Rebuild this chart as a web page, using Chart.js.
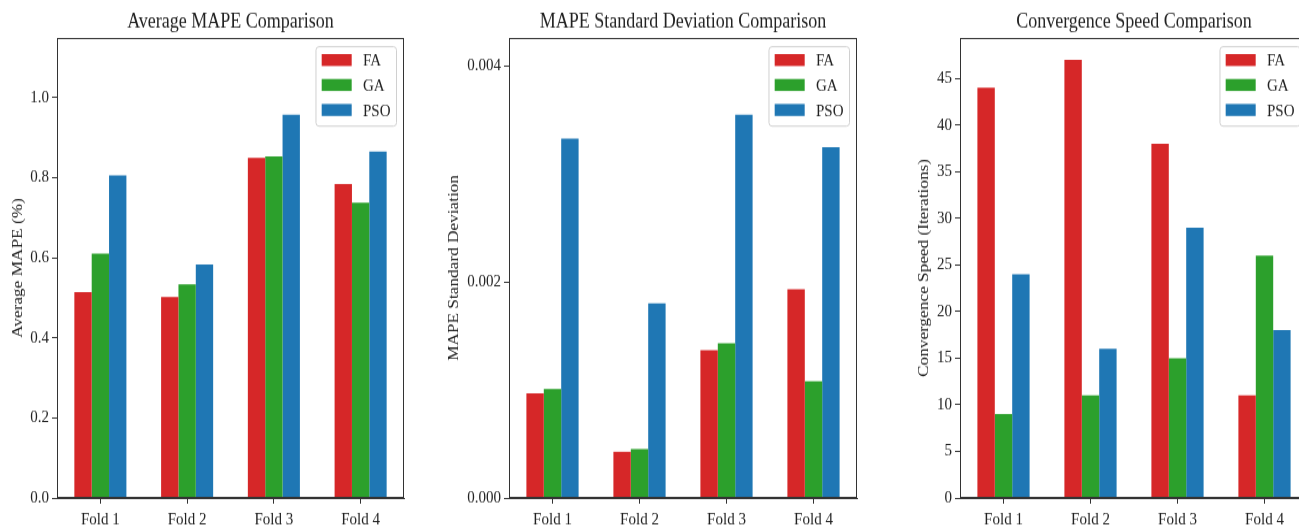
<!DOCTYPE html>
<html>
<head>
<meta charset="utf-8">
<script src="https://cdn.jsdelivr.net/npm/chart.js@4.4.1/dist/chart.umd.min.js"></script>
<style>
  html, body { margin: 0; padding: 0; background: #fff; width: 1299px; height: 529px; overflow: hidden; }
  .panel { position: absolute; top: 0; height: 460px; transform: scaleY(1.15); transform-origin: 0 0; }
</style>
</head>
<body>
<div class="panel" style="left:0px;width:410px"><canvas id="c1"></canvas></div>
<div class="panel" style="left:440px;width:423px"><canvas id="c2"></canvas></div>
<div class="panel" style="left:900px;width:414px"><canvas id="c3"></canvas></div>
<script>
var folds = ['Fold 1', 'Fold 2', 'Fold 3', 'Fold 4'];
var methods = ['FA', 'GA', 'PSO'];
var colors = ['#d62728', '#2ca02c', '#1f77b4'];

var mapeFA = [0.514, 0.502, 0.849, 0.784];
var mapeGA = [0.610, 0.533, 0.853, 0.737];
var mapePSO = [0.805, 0.583, 0.957, 0.865];

var stdFA = [0.000968, 0.000428, 0.001369, 0.001933];
var stdGA = [0.001008, 0.000453, 0.001431, 0.001082];
var stdPSO = [0.003327, 0.001801, 0.003549, 0.003247];

var convFA = [44, 47, 38, 11];
var convGA = [9, 11, 15, 26];
var convPSO = [24, 16, 29, 18];

var serif = "'Liberation Serif', 'Times New Roman', serif";
var ink = '#222';

// box round the plot area (matplotlib spines)
var frame = {
  id: 'frame',
  afterDatasetsDraw: function(chart) {
    var a = chart.chartArea, ctx = chart.ctx;
    ctx.save();
    ctx.strokeStyle = '#333';
    ctx.lineWidth = 1;
    ctx.strokeRect(Math.round(a.left) + 0.5, Math.round(a.top) + 0.5, Math.round(a.width) - 1, Math.round(a.height) - 1);
    ctx.restore();
  }
};

// title centred over the axes, not over the whole canvas
var axTitle = {
  id: 'axTitle',
  afterDraw: function(chart, args, opts) {
    var a = chart.chartArea, ctx = chart.ctx;
    ctx.save();
    ctx.font = '18px ' + serif;
    ctx.fillStyle = ink;
    ctx.textAlign = 'center';
    ctx.textBaseline = 'middle';
    ctx.fillText(opts.text, (a.left + a.right) / 2, 19);
    ctx.restore();
  }
};

// legend in the upper right corner inside the axes
var boxLegend = {
  id: 'boxLegend',
  afterDraw: function(chart) {
    var ctx = chart.ctx, a = chart.chartArea, ds = chart.data.datasets;
    ctx.save();
    ctx.font = '15px ' + serif;
    var tw = 0;
    ds.forEach(function(d) { tw = Math.max(tw, ctx.measureText(d.label).width); });
    var pw = 30, ph = 10.4, gap = 11.3, pad = 5.7, row = 21.7;
    var w = pad + pw + gap + tw + 6;
    var h = ds.length * row + 4;
    var x = a.right - 7.5 - w, y = a.top + 7.6;
    ctx.beginPath();
    ctx.roundRect(x, y, w, h, 3);
    ctx.fillStyle = 'rgba(255,255,255,0.8)';
    ctx.fill();
    ctx.strokeStyle = '#d0d0d0';
    ctx.lineWidth = 1;
    ctx.stroke();
    ds.forEach(function(d, i) {
      var py = y + 6.4 + i * row;
      ctx.fillStyle = d.backgroundColor;
      ctx.fillRect(x + pad, py, pw, ph);
      ctx.fillStyle = ink;
      ctx.textBaseline = 'middle';
      ctx.fillText(d.label, x + pad + pw + gap, py + ph / 2 + 1);
    });
    ctx.restore();
  }
};

function makeChart(id, title, yTitle, series, yMax, step, digits, yWidth, titlePad) {
  var datasets = series.map(function(vals, i) {
    return { label: methods[i], data: vals, backgroundColor: colors[i], borderWidth: 0 };
  });
  return new Chart(document.getElementById(id), {
    type: 'bar',
    data: { labels: folds, datasets: datasets },
    plugins: [frame, boxLegend, axTitle],
    options: {
      responsive: true,
      maintainAspectRatio: false,
      animation: false,
      devicePixelRatio: 1,
      layout: { padding: { top: 33, right: 6, bottom: 0, left: 0 } },
      datasets: { bar: { categoryPercentage: 0.6, barPercentage: 1.0 } },
      plugins: {
        legend: { display: false },
        tooltip: { enabled: false },
        title: { display: false },
        axTitle: { text: title }
      },
      scales: {
        x: {
          offset: true,
          grid: { offset: false, drawOnChartArea: false, tickLength: 5, tickColor: '#333' },
          border: { color: '#333' },
          ticks: { color: ink, font: { family: serif, size: 15 }, padding: 5, maxRotation: 0 },
          afterFit: function(s) { s.height = 27; }
        },
        y: {
          min: 0, max: yMax,
          grid: { drawOnChartArea: false, tickLength: 5, tickColor: '#333' },
          border: { color: '#333' },
          ticks: {
            stepSize: step, includeBounds: false, color: ink, padding: 3,
            font: { family: serif, size: 15 },
            callback: function(v) { return v.toFixed(digits); }
          },
          title: {
            display: true, text: yTitle, color: ink,
            font: { family: serif, size: 15 },
            padding: { top: titlePad, bottom: 0 }
          },
          afterFit: function(s) { s.width = yWidth; }
        }
      }
    }
  });
}

makeChart('c1', 'Average MAPE Comparison', 'Average MAPE (%)',
  [mapeFA, mapeGA, mapePSO], Math.max.apply(null, mapePSO) * 1.2, 0.2, 1, 57, 9);
makeChart('c2', 'MAPE Standard Deviation Comparison', 'MAPE Standard Deviation',
  [stdFA, stdGA, stdPSO], Math.max.apply(null, stdPSO) * 1.2, 0.002, 3, 69, 5);
makeChart('c3', 'Convergence Speed Comparison', 'Convergence Speed (Iterations)',
  [convFA, convGA, convPSO], Math.max.apply(null, convFA) * 1.05, 5, 0, 60, 15);
</script>
</body>
</html>
